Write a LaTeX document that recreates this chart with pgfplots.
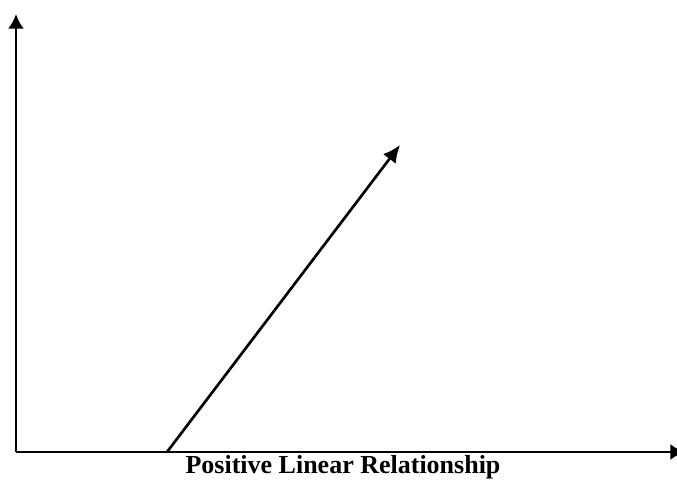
\documentclass[border=0pt]{standalone}
\usepackage{fontspec}
\setmainfont{Liberation Serif}
\usepackage{pgfplots}
\pgfplotsset{compat=1.18}
\usetikzlibrary{arrows.meta}

\begin{document}
\begin{tikzpicture}
\begin{axis}[
    scale only axis,
    width=501.75pt, height=328.5pt,
    xmin=0, xmax=669,
    ymin=0, ymax=438,
    axis lines=left,
    axis line style={line width=2pt, -{Latex[length=11pt,width=12pt]}},
    xtick=\empty, ytick=\empty,
    clip=false,
]
    % positive line
    \addplot[black, line width=2pt, -{Latex[length=13pt,width=12pt]}]
        coordinates {(151,0) (384,307)};
    \node[font=\bfseries\fontsize{19.5pt}{22pt}\selectfont, anchor=base]
        at (axis cs:327,-21) {Positive Linear Relationship};
    % page corners
    \coordinate (bl) at (axis cs:-16,-27);
    \coordinate (tr) at (axis cs:661,452);
\end{axis}
\pgfresetboundingbox
\useasboundingbox (bl) rectangle (tr);
\end{tikzpicture}
\end{document}
